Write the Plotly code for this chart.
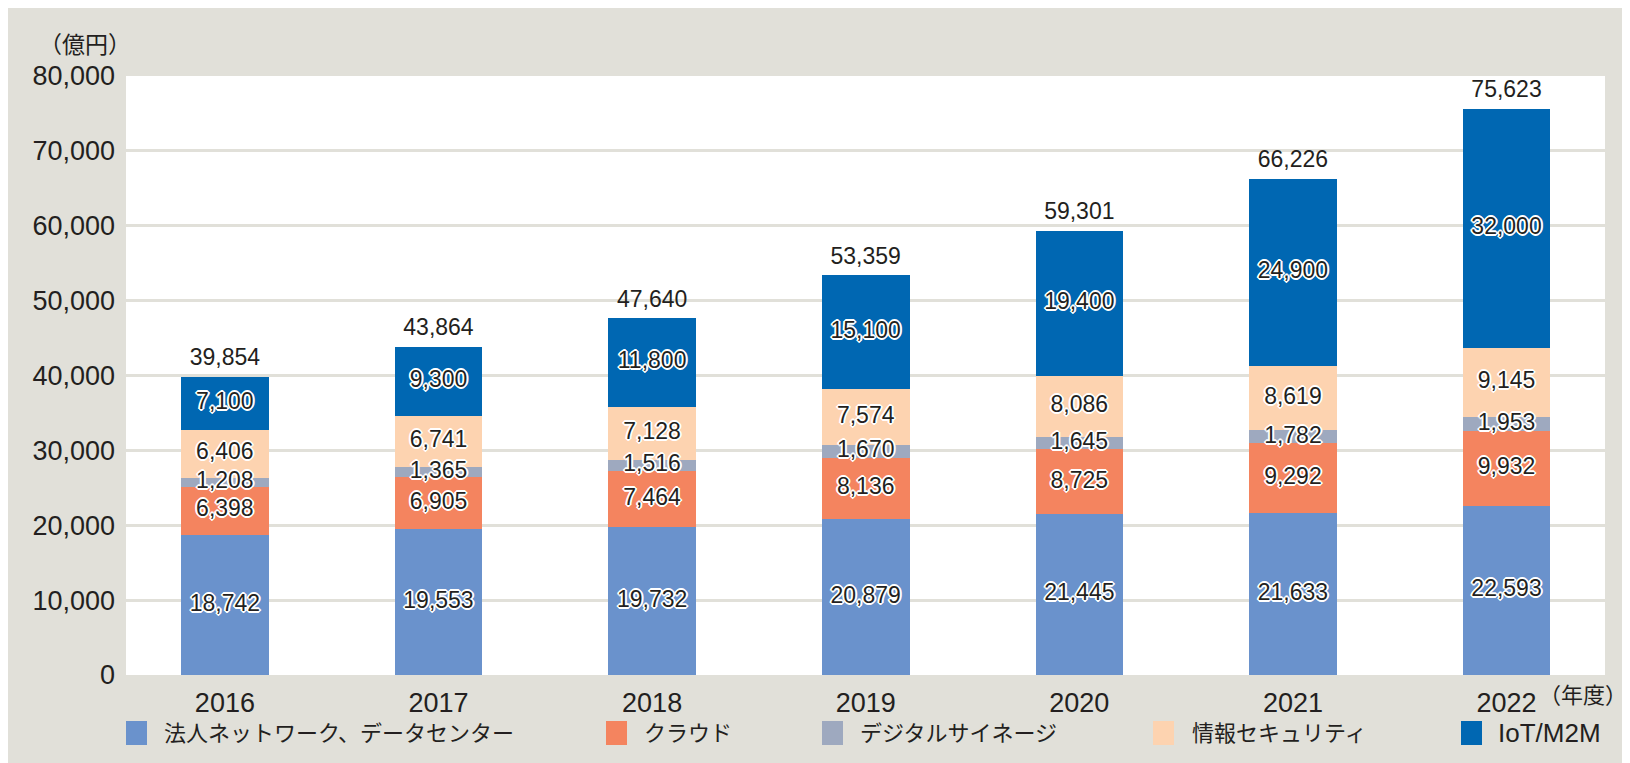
import plotly.graph_objects as go

years = ["2016", "2017", "2018", "2019", "2020", "2021", "2022"]
network_dc = [18742, 19553, 19732, 20879, 21445, 21633, 22593]
cloud = [6398, 6905, 7464, 8136, 8725, 9292, 9932]
signage = [1208, 1365, 1516, 1670, 1645, 1782, 1953]
security = [6406, 6741, 7128, 7574, 8086, 8619, 9145]
iot_m2m = [7100, 9300, 11800, 15100, 19400, 24900, 32000]
series_names = ["法人ネットワーク、データセンター", "クラウド", "デジタルサイネージ", "情報セキュリティ", "IoT/M2M"]
y_ticks = [0, 10000, 20000, 30000, 40000, 50000, 60000, 70000, 80000]

series = [network_dc, cloud, signage, security, iot_m2m]
colors = ["#6A92CC", "#F4845F", "#9EA9BF", "#FDD3B0", "#0067B2"]
totals = [sum(v) for v in zip(*series)]

W, H = 1622, 755
L, R, T, B = 118, 25, 68, 88
PW, PH = W - L - R, H - T - B


def px(fx):
    return (fx - L) / PW


def py(fy):
    return (H - B - fy) / PH


NUM_FONT = "Liberation Sans, Arial, Helvetica, sans-serif"
JP_FONT = "Liberation Sans, Noto Sans CJK JP, sans-serif"
TXT = "#231F20"
outline = ",".join(f"{dx}px {dy}px 0 #ffffff" for dx, dy in
                   [(1, 0), (-1, 0), (0, 1), (0, -1), (1, 1), (-1, -1), (1, -1), (-1, 1),
                    (2, 0), (-2, 0), (0, 2), (0, -2)])

fig = go.Figure()
for name, vals, col in zip(series_names, series, colors):
    fig.add_trace(go.Bar(
        x=years, y=vals, name=name,
        marker=dict(color=col, line=dict(width=0)),
        hoverinfo="skip", showlegend=False,
    ))

# segment value labels (drawn after all bars so none is covered)
base = [0] * len(years)
for vals in series:
    mids = [b + v / 2 for b, v in zip(base, vals)]
    fig.add_trace(go.Scatter(
        x=years, y=mids, mode="text",
        text=[f"{v:,}" for v in vals], textposition="middle center",
        textfont=dict(family=NUM_FONT, size=23, color=TXT, shadow=outline),
        hoverinfo="skip", showlegend=False, cliponaxis=False,
    ))
    base = [b + v for b, v in zip(base, vals)]

fig.add_trace(go.Scatter(
    x=years, y=totals, mode="markers+text",
    marker=dict(size=8, opacity=0),
    text=[f"{v:,}" for v in totals], textposition="top center",
    textfont=dict(family=NUM_FONT, size=23, color=TXT),
    hoverinfo="skip", showlegend=False, cliponaxis=False,
))

# legend (manual swatches + labels)
leg_sq_x = [118, 598, 814, 1145, 1453]
leg_tx_x = [154, 634, 850, 1182, 1488]
leg_size = [22, 22, 22, 22, 26]
shapes = []
annotations = []
for name, col, sx, tx, fs in zip(series_names, colors, leg_sq_x, leg_tx_x, leg_size):
    shapes.append(dict(type="rect", xref="paper", yref="paper",
                       x0=px(sx), x1=px(sx + 21), y0=py(737), y1=py(713),
                       fillcolor=col, line=dict(width=0), layer="above"))
    annotations.append(dict(text=name, xref="paper", yref="paper",
                            x=px(tx), y=py(725), xanchor="left", yanchor="middle",
                            showarrow=False,
                            font=dict(family=JP_FONT, size=fs, color=TXT)))

annotations.append(dict(text="（億円）", xref="paper", yref="paper",
                        x=px(125), y=py(37), xanchor="right", yanchor="middle",
                        showarrow=False, font=dict(family=JP_FONT, size=23, color=TXT)))
annotations.append(dict(text="（年度）", xref="paper", yref="paper",
                        x=px(1621), y=py(687), xanchor="right", yanchor="middle",
                        showarrow=False, font=dict(family=JP_FONT, size=22, color=TXT)))

fig.update_layout(
    width=W, height=H, autosize=False,
    margin=dict(l=L, r=R, t=T, b=B, pad=0),
    paper_bgcolor="#E1E0D9", plot_bgcolor="#FFFFFF",
    barmode="stack", bargap=0.59,
    showlegend=False,
    shapes=shapes, annotations=annotations,
    xaxis=dict(range=[-0.463, 6.461], showgrid=False, zeroline=False, showline=False,
               ticks="", ticklabelstandoff=9,
               tickfont=dict(family=NUM_FONT, size=27, color=TXT)),
    yaxis=dict(range=[0, 80000], tickvals=y_ticks,
               ticktext=[f"{v:,}" for v in y_ticks],
               showgrid=True, gridcolor="#E1E0D9", gridwidth=3,
               zeroline=False, showline=False, ticks="", ticklabelstandoff=10,
               tickfont=dict(family=NUM_FONT, size=27, color=TXT)),
)

fig.write_html("out.html")
